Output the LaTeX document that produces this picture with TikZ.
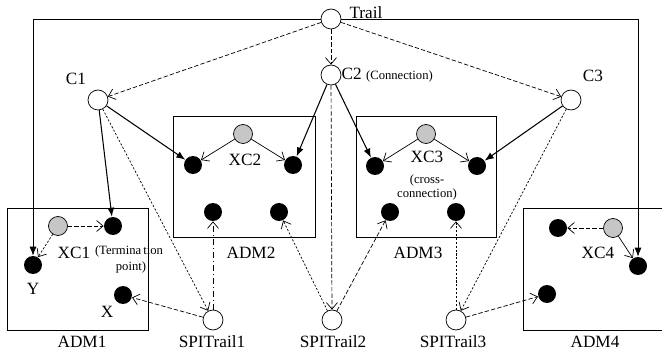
\documentclass[tikz,border=0pt]{standalone}
\usepackage{fontspec}
\setmainfont{Liberation Serif}
\usetikzlibrary{arrows.meta}

\tikzset{
  hub/.style={circle, draw, thin, fill=white, inner sep=0pt, minimum size=0.4cm},
  port/.style={circle, fill=black, inner sep=0pt, minimum size=0.36cm},
  xconn/.style={circle, draw, thin, fill=gray!45, inner sep=0pt, minimum size=0.38cm},
  lbl/.style={inner sep=0pt, font=\fontsize{9.8}{11}\selectfont},
  note/.style={inner sep=0pt, font=\fontsize{7.2}{8}\selectfont, align=center},
  sol/.style={semithick, -{Latex[length=1.8mm,width=1.4mm]}},
  opn/.style={thin, -{Straight Barb[length=1.3mm,width=2.2mm]}},
  dsh/.style={dash pattern=on 2.5pt off 1.2pt},
  dtt/.style={dash pattern=on 1.2pt off 1pt},
}

\begin{document}
\begin{tikzpicture}[x=0.02cm, y=-0.02cm]

    % Fix the size of the page (in pixels of the reference)
    \useasboundingbox (0,0) rectangle (662,354);

    % Draw the four ADM boxes
    \draw (7,208) rectangle (148,330);
    \draw (173,116) rectangle (315,237);
    \draw (356,116) rectangle (496,237);
    \draw (662,208) -- (523,208) -- (523,330) -- (662,330);

    % Trail and connections
    \node[hub] (trail) at (331,19) {};
    \node[hub] (c1) at (98,100) {};
    \node[hub] (c2) at (331,75) {};
    \node[hub] (c3) at (571,100) {};

    % ADM1
    \node[xconn] (xc1) at (58,226) {};
    \node[port] (tp) at (113,226) {};
    \node[port] (y) at (33,265) {};
    \node[port] (x) at (123,295) {};

    % ADM2
    \node[xconn] (xc2) at (243,134) {};
    \node[port] (a2l) at (193,165) {};
    \node[port] (a2r) at (293,165) {};
    \node[port] (a2p) at (213,212) {};
    \node[port] (a2q) at (279,212) {};

    % ADM3
    \node[xconn] (xc3) at (426,134) {};
    \node[port] (a3l) at (375,166) {};
    \node[port] (a3r) at (477,166) {};
    \node[port] (a3p) at (390,212) {};
    \node[port] (a3q) at (456,212) {};

    % ADM4
    \node[xconn] (xc4) at (613,228) {};
    \node[port] (a4l) at (558,228) {};
    \node[port] (a4r) at (638,266) {};
    \node[port] (a4p) at (547,294) {};

    % SPI trails
    \node[hub] (spi1) at (213,320) {};
    \node[hub] (spi2) at (332,320) {};
    \node[hub] (spi3) at (456,320) {};

    % Labels
    \node[lbl] (ltrail) at (366,13) {Trail};
    \node[lbl] (lc1) at (76,79) {C1};
    \node[lbl, anchor=west] (lc2) at (c2.east) {C2 \fontsize{7.2}{8}\selectfont(Connection)};
    \node[lbl] (lc3) at (593,76) {C3};
    \node[lbl] (lxc1) at (74,253) {XC1};
    \node[note] (ltp) at (129,251) {(Termina\,tion};
    \node[note] (ltp2) at (131,267) {point)};
    \node[lbl] (ly) at (33,289) {Y};
    \node[lbl] (lx) at (107,312) {X};
    \node[lbl] (lxc2) at (245,160) {XC2};
    \node[lbl] (lxc3) at (427,157) {XC3};
    \node[note] (lcross) at (427,187) {(cross-\\connection)};
    \node[lbl] (lxc4) at (598,253) {XC4};
    \node[lbl] (ladm1) at (82,342) {ADM1};
    \node[lbl] (ladm2) at (251,253) {ADM2};
    \node[lbl] (ladm3) at (418,253) {ADM3};
    \node[lbl] (ladm4) at (595,342) {ADM4};
    \node[lbl] (lspi1) at (212,342) {SPITrail1};
    \node[lbl] (lspi2) at (333,342) {SPITrail2};
    \node[lbl] (lspi3) at (453,342) {SPITrail3};

    % Trail round the outside to the end points
    \draw[sol, thin] (trail.west) -| (y.north);
    \draw[sol, thin] (trail.east) -| (a4r.north);

    % Trail down to the connections
    \draw[opn, dsh] (trail) -- (c1);
    \draw[opn, dsh] (trail) -- (c2);
    \draw[opn, dsh] (trail) -- (c3);

    % Connections to the ports
    \draw[sol] (c1) -- (a2l);
    \draw[sol] (c1) -- (tp);
    \draw[sol] (c2) -- (a2r);
    \draw[sol] (c2) -- (a3l);
    \draw[sol] (c3) -- (a3r);

    % Connections to the SPI trails
    \draw[opn, dtt] (c1) -- (spi1);
    \draw[opn, dsh] (c2) -- (spi2);
    \draw[opn, dtt] (c3) -- (spi3);

    % Cross-connections
    \draw[opn, dsh] (xc1) -- (tp);
    \draw[opn, dtt] (xc1) -- (y);
    \draw[opn] (xc2) -- (a2l);
    \draw[opn] (xc2) -- (a2r);
    \draw[opn] (xc3) -- (a3l);
    \draw[opn] (xc3) -- (a3r);
    \draw[opn, dsh] (xc4) -- (a4l);
    \draw[opn] (xc4) -- (a4r);

    % SPI trails to the ADM ports
    \draw[opn, dash dot] (spi1) -- (a2p);
    \draw[opn, dsh] (spi1) -- (x);
    \draw[opn, dtt] (spi2) -- (a2q);
    \draw[opn, dsh] (spi2) -- (a3p);
    \draw[opn, dtt] (spi3) -- (a3q);
    \draw[opn, dsh] (spi3) -- (a4p);

\end{tikzpicture}
\end{document}
